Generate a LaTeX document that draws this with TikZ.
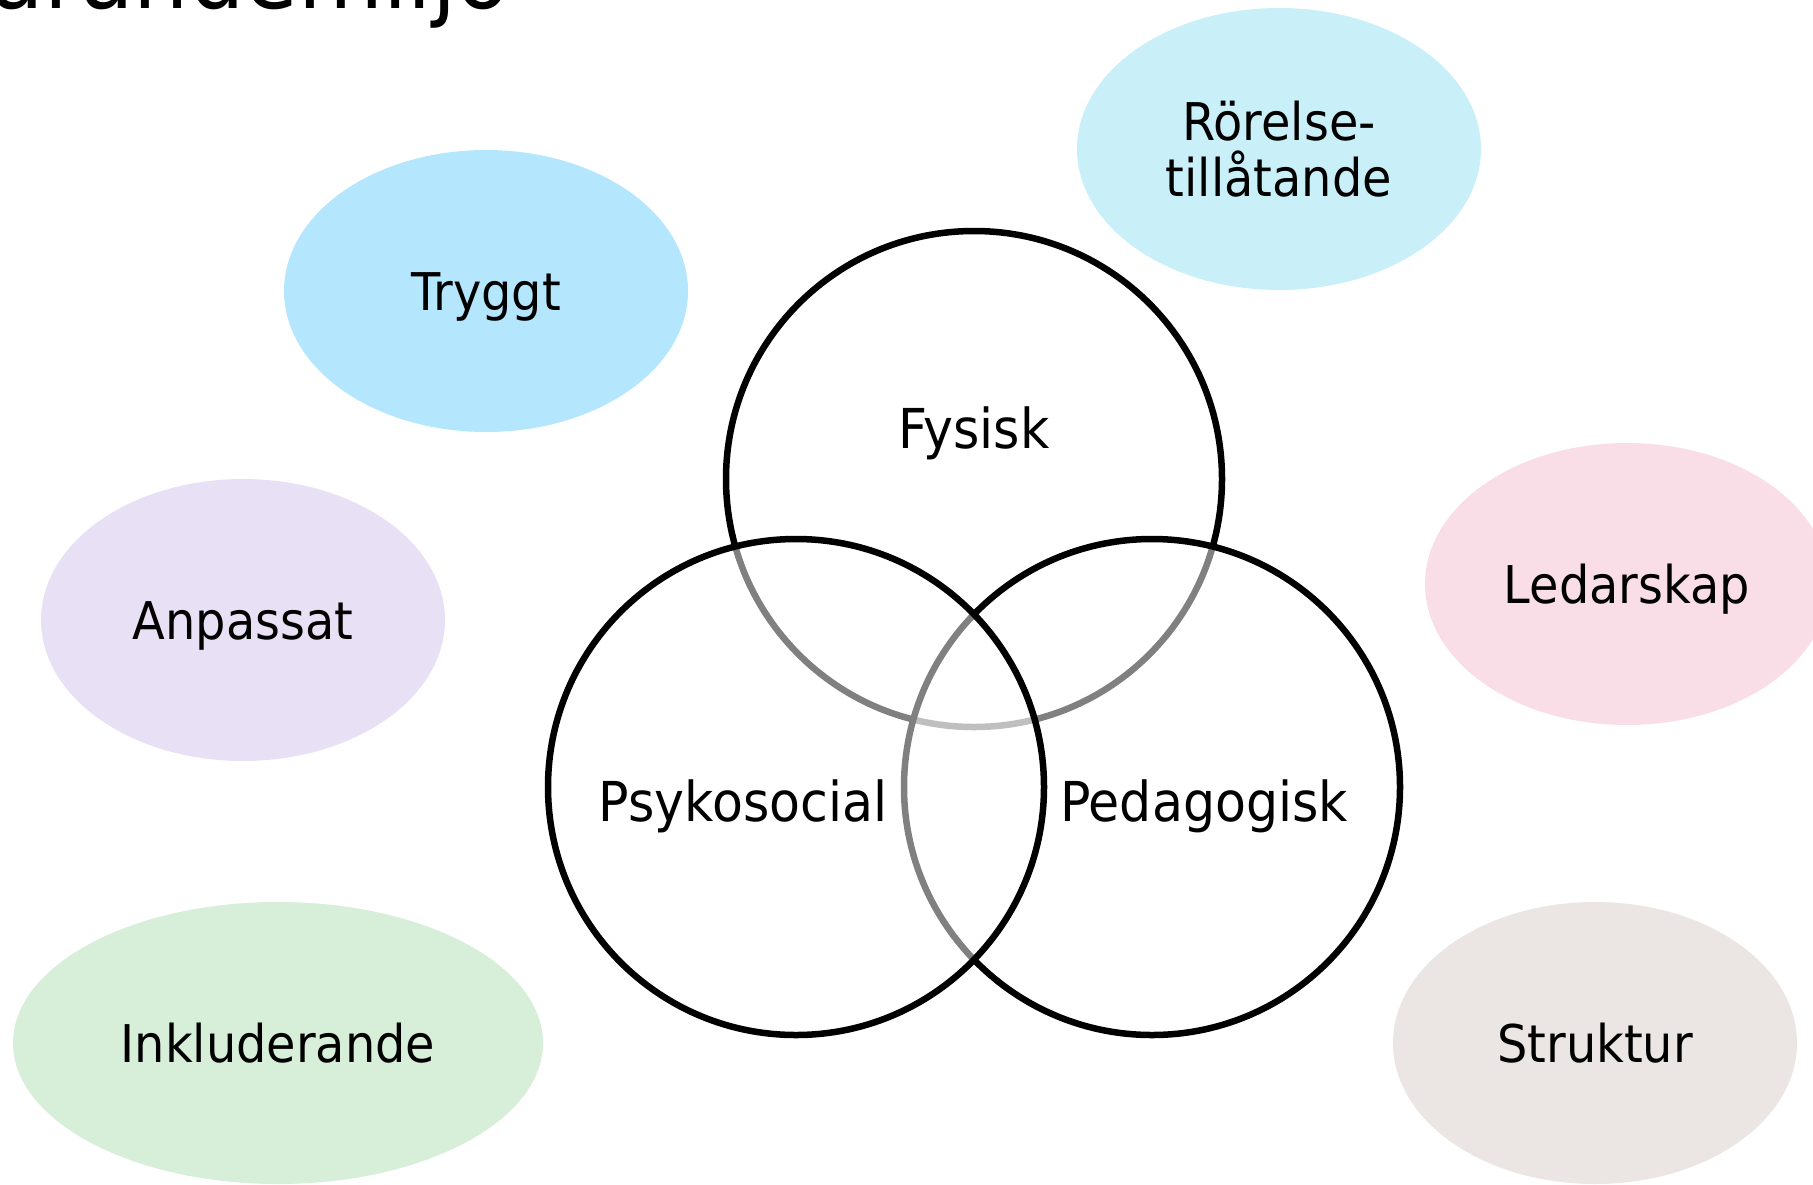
\documentclass[tikz,border=0pt]{standalone}
\usepackage{fontspec}
\setmainfont{DejaVu Sans}[FakeStretch=0.92]
\usepackage{tikz}
\usetikzlibrary{shapes.geometric}

\definecolor{cTryggt}{HTML}{B4E6FD}
\definecolor{cRorelse}{HTML}{C9F0F8}
\definecolor{cAnpassat}{HTML}{E8E1F5}
\definecolor{cLedarskap}{HTML}{FADEE7}
\definecolor{cInkl}{HTML}{D7EED9}
\definecolor{cStruktur}{HTML}{EBE6E4}

\begin{document}
\begin{tikzpicture}[x=1pt,y=-1pt]
  \tikzstyle{blob}=[ellipse, inner sep=0pt, minimum width=404pt, minimum height=282pt,
    font=\fontsize{52pt}{56pt}\selectfont, text height=38pt, text depth=0pt]
  \tikzstyle{ring}=[circle, draw=black, line width=6.5pt, fill=white, fill opacity=0.5,
    inner sep=0pt, minimum size=496pt]
  \tikzstyle{lbl}=[inner sep=0pt, font=\fontsize{55pt}{60pt}\selectfont, text height=40pt, text depth=0pt]
  \useasboundingbox (0,0) rectangle (1813,1184);
  % title, mostly above the page
  \node[anchor=base east, inner sep=0pt, font=\fontsize{95pt}{100pt}\selectfont] (title) at (510,8) {Lärandemiljö};
  % the coloured ellipses
  \foreach \n/\x/\y/\c/\t in {tryggt/486/291/cTryggt/Tryggt, anpassat/243/620/cAnpassat/Anpassat,
      ledarskap/1627/584/cLedarskap/Ledarskap, struktur/1595/1043/cStruktur/Struktur} {
    \node[blob, fill=\c] (\n) at (\x,\y) {\t};
  }
  \node[blob, fill=cInkl, minimum width=530pt] (inkluderande) at (278,1043) {Inkluderande};
  \node[blob, fill=cRorelse, align=center, text height=94pt] (rorelse) at (1279,149) {Rörelse-\\tillåtande};
  % the three rings
  \node[ring] (fysisk) at (974,479) {};
  \node[ring] (pedagogisk) at (1152,787) {};
  \node[ring] (psykosocial) at (796,787) {};
  \node[lbl] (fysiskL) at (974,428) {Fysisk};
  \node[lbl] (psykosocialL) at (743,801) {Psykosocial};
  \node[lbl] (pedagogiskL) at (1204,801) {Pedagogisk};
\end{tikzpicture}
\end{document}
